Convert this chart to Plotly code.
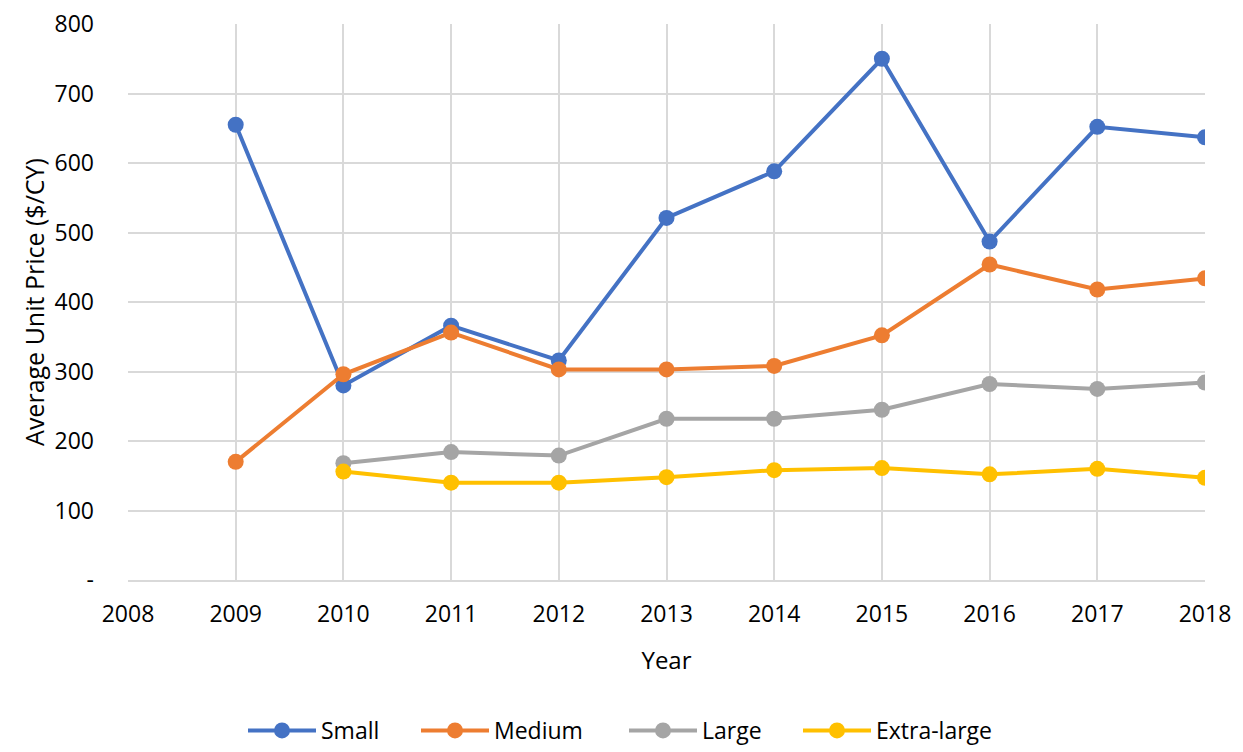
import plotly.graph_objects as go

years = [2009, 2010, 2011, 2012, 2013, 2014, 2015, 2016, 2017, 2018]
small = [655, 280, 366, 316, 521, 588, 750, 487, 652, 637]
medium = [170, 296, 356, 303, 303, 308, 352, 454, 418, 434]
large = [None, 168, 184, 179, 232, 232, 245, 282, 275, 284]
xlarge = [None, 156, 140, 140, 148, 158, 161, 152, 160, 147]

series_names = ["Small", "Medium", "Large", "Extra-large"]
series_vals = [small, medium, large, xlarge]
colors = ["#4472C4", "#ED7D31", "#A5A5A5", "#FFC000"]

y_tickvals = [0, 100, 200, 300, 400, 500, 600, 700, 800]
y_ticktext = ["-", "100", "200", "300", "400", "500", "600", "700", "800"]
x_tickvals = list(range(2008, 2019))

W, H = 1235, 744
legend_ids = ["legend", "legend2", "legend3", "legend4"]
legend_px = [243, 416, 624, 798]

fig = go.Figure()
for name, vals, c, lid in zip(series_names, series_vals, colors, legend_ids):
    fig.add_trace(go.Scatter(
        x=years, y=vals, name=name, mode="lines+markers",
        line=dict(color=c, width=4),
        marker=dict(color=c, size=16),
        connectgaps=False, legend=lid,
    ))

font = "Open Sans, Lato, sans-serif"
layout_legends = {}
for lid, px in zip(legend_ids, legend_px):
    layout_legends[lid] = dict(
        orientation="h", xref="container", yref="container",
        x=(px - 8) / W, xanchor="left", y=-0.022, yanchor="bottom",
        font=dict(size=23), itemwidth=68, bgcolor="rgba(0,0,0,0)",
    )

fig.update_layout(
    width=W, height=H,
    margin=dict(l=120, r=38, t=16, b=172, autoexpand=False),
    paper_bgcolor="white", plot_bgcolor="white",
    font=dict(family=font, size=23, color="#000000"),
    showlegend=True,
    xaxis=dict(range=[2008, 2018], tickvals=x_tickvals, showgrid=True,
               gridcolor="#D9D9D9", gridwidth=2, zeroline=False,
               showline=True, linecolor="#D9D9D9", linewidth=2,
               ticks="", ticklabelstandoff=12, ticklabeloverflow="allow",
               automargin=False,
               title=dict(text="Year", font=dict(size=24), standoff=25)),
    yaxis=dict(range=[0, 800], tickvals=y_tickvals, ticktext=y_ticktext,
               showgrid=True, gridcolor="#D9D9D9", gridwidth=2,
               zeroline=False, showline=False, ticks="",
               ticklabelstandoff=33, ticklabeloverflow="allow",
               automargin=False,
               title=dict(text="Average Unit Price ($/CY)", font=dict(size=25), standoff=2)),
    **layout_legends,
)

fig.write_html("out.html")
